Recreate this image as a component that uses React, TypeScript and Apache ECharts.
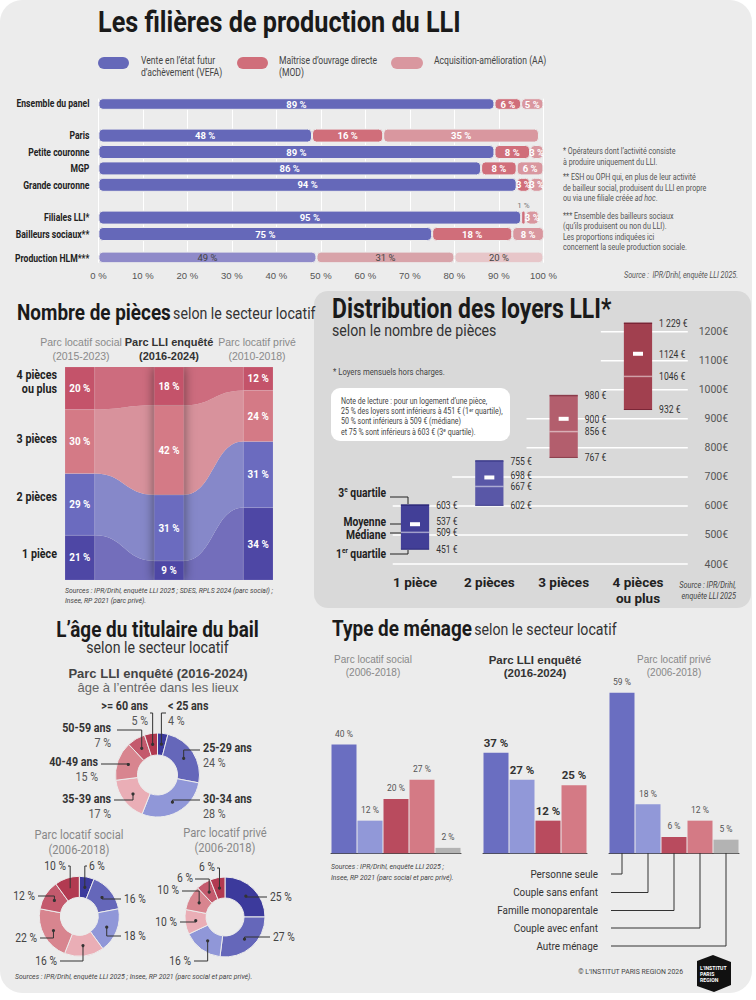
import React, { useEffect, useRef } from "react";
import * as echarts from "echarts";

const COND = "Roboto, 'Liberation Sans', sans-serif";
const SANS = "'Liberation Sans', Arial, Roboto, sans-serif";
const SX = 0.86;

// ---------- 1. Filières de production ----------
const filiereCats = ["Ensemble du panel", "Paris", "Petite couronne", "MGP", "Grande couronne", "Filiales LLI*", "Bailleurs sociaux**", "Production HLM***"];
const filiereVefa = [89, 48, 89, 86, 94, 95, 75, 49];
const filiereMod = [6, 16, 8, 8, 3, 1, 18, 31];
const filiereAa = [5, 35, 3, 6, 3, 3, 8, 20];
const filiereNames = ["Vente en l’état futur\nd’achèvement (VEFA)", "Maîtrise d’ouvrage directe\n(MOD)", "Acquisition-amélioration (AA)"];

// ---------- 2. Nombre de pièces ----------
const piecesCats = ["1 pièce", "2 pièces", "3 pièces", "4 pièces\nou plus"];
const piecesSocial = [21, 29, 30, 20];
const piecesLLI = [9, 31, 42, 18];
const piecesPrive = [34, 31, 24, 12];

// ---------- 3. Loyers ----------
const loyerCats = ["1 pièce", "2 pièces", "3 pièces", "4 pièces\nou plus"];
const loyerQ1 = [451, 602, 767, 932];
const loyerMedian = [509, 667, 856, 1046];
const loyerMean = [537, 698, 900, 1124];
const loyerQ3 = [603, 755, 980, 1229];
const loyerTicks = [400, 500, 600, 700, 800, 900, 1000, 1100, 1200];

// ---------- 4. Âge ----------
const ageCats = ["< 25 ans", "25-29 ans", "30-34 ans", "35-39 ans", "40-49 ans", "50-59 ans", ">= 60 ans"];
const ageLLI = [4, 24, 28, 17, 15, 7, 5];
const ageSocial = [6, 16, 18, 16, 22, 12, 10];
const agePrive = [25, 27, 16, 10, 10, 6, 6];

// ---------- 5. Ménage ----------
const menageCats = ["Personne seule", "Couple sans enfant", "Famille monoparentale", "Couple avec enfant", "Autre ménage"];
const menageSocial = [40, 12, 20, 27, 2];
const menageLLI = [37, 27, 12, 25];
const menagePrive = [59, 18, 6, 12, 5];

// ---------- styles / layout ----------
const FIL_SLOTS = [0, 4, 6, 8, 10, 14, 16, 19];
const FIL_N = 20;
const FIL_COLORS = ["#6568b9", "#d06e7a", "#d9979f"];
const FIL_LIGHT = ["#8f8ac9", "#d8a3a9", "#e7c6c9"];
const PIECE_COL = ["#4e47a5", "#6b6bbf", "#d47a86", "#c4536a"];
const PIECE_FLOW = ["#736ebb", "#8688c9", "#d8929c", "#cd6c7e"];
const PIECE_X = [[0, 1], [3, 4], [6, 7]];
const BOX = ["#423f97", "#5957a7", "#b35e6d", "#a1404f"];
const BOX_EDGE = ["#2c2978", "#3d3b8a", "#8a3b4a", "#7a2536"];
const AGE_COLORS = ["#3c3a9c", "#6567ba", "#9097d8", "#eaaeb6", "#d8858f", "#c45a6d", "#b23a51"];
const MEN_COLORS = ["#6a6ec1", "#9198d8", "#b94b5e", "#d47a85", "#b3b3b3"];

function T(text: string, x: number, y: number, o: any = {}) {
  const align = o.align || "left";
  const family = o.family || COND;
  const sx = o.sx ?? (family === COND ? SX : 1);
  return {
    type: "text", x, y, scaleX: sx, silent: true, z: o.z ?? 10,
    style: {
      text, x: 0, y: 0, fill: o.fill || "#333", fontSize: o.size || 10, fontFamily: family,
      fontWeight: o.weight || "normal", fontStyle: o.italic ? "italic" : "normal",
      align, textAlign: align, verticalAlign: "middle", textVerticalAlign: "middle",
      lineHeight: o.lh, rich: o.rich,
    },
  };
}
function PL(points: number[][], o: any = {}) {
  return { type: "polyline", silent: true, z: 10, shape: { points }, style: { stroke: o.stroke || "#333", lineWidth: o.lw || 1, fill: "none" } };
}

function donutLabels(values: number[], center: number[], radius: number[], layout: any[], withNames: boolean) {
  const total = values.reduce((a, b) => a + b, 0);
  const rMid = (radius[0] + radius[1]) / 2;
  let acc = 0;
  const els: any[] = [];
  values.forEach((v, i) => {
    const a = ((acc + v / 2) / total) * Math.PI * 2;
    acc += v;
    const dx = center[0] + rMid * Math.sin(a);
    const dy = center[1] - rMid * Math.cos(a);
    const L = layout[i];
    els.push(PL([[dx, dy], [dx, L.ly], [L.ex, L.ly]]));
    els.push({ type: "circle", silent: true, z: 11, shape: { cx: dx, cy: dy, r: 1.6 }, style: { fill: "#333" } });
    if (withNames) {
      els.push(T(ageCats[i], L.tx, L.ty, { align: L.al, size: 12.5, weight: "bold", fill: "#333" }));
      els.push(T(`${v} %`, L.tx, L.ty + 15, { align: L.al, size: 12.5, fill: "#555" }));
    } else {
      els.push(T(`${v} %`, L.tx, L.ty, { align: L.al, size: 12, fill: "#444" }));
    }
  });
  return els;
}

const AGE_LLI_LAYOUT = [
  { tx: 168, ty: 706, al: "left", ly: 713, ex: 166 },
  { tx: 203, ty: 748, al: "left", ly: 750, ex: 200 },
  { tx: 203, ty: 799, al: "left", ly: 800, ex: 200 },
  { tx: 111, ty: 799, al: "right", ly: 800, ex: 114 },
  { tx: 98, ty: 762, al: "right", ly: 764, ex: 101 },
  { tx: 111, ty: 728, al: "right", ly: 730, ex: 117 },
  { tx: 148, ty: 706, al: "right", ly: 713, ex: 150 },
];
const AGE_SOC_LAYOUT = [
  { tx: 89, ty: 866, al: "left", ly: 866, ex: 87 },
  { tx: 124, ty: 899, al: "left", ly: 899, ex: 121 },
  { tx: 124, ty: 936, al: "left", ly: 936, ex: 121 },
  { tx: 57, ty: 961, al: "right", ly: 961, ex: 60 },
  { tx: 37, ty: 938, al: "right", ly: 938, ex: 40 },
  { tx: 35, ty: 896, al: "right", ly: 896, ex: 38 },
  { tx: 66, ty: 866, al: "right", ly: 866, ex: 68 },
];
const AGE_PRIVE_LAYOUT = [
  { tx: 270, ty: 897, al: "left", ly: 897, ex: 267 },
  { tx: 273, ty: 937, al: "left", ly: 937, ex: 270 },
  { tx: 191, ty: 961, al: "right", ly: 961, ex: 194 },
  { tx: 177, ty: 922, al: "right", ly: 922, ex: 180 },
  { tx: 179, ty: 890, al: "right", ly: 891, ex: 182 },
  { tx: 193, ty: 878, al: "right", ly: 879, ex: 195 },
  { tx: 215, ty: 867, al: "right", ly: 868, ex: 217 },
];
const DONUTS = [
  { values: ageLLI, center: [157.5, 775], radius: [20, 42], layout: AGE_LLI_LAYOUT, names: true },
  { values: ageSocial, center: [79.3, 916.3], radius: [19, 40], layout: AGE_SOC_LAYOUT, names: false },
  { values: agePrive, center: [225, 917], radius: [19, 40], layout: AGE_PRIVE_LAYOUT, names: false },
];

function buildOption() {
  const FIL_GRID = { left: 98.4, top: 98.7, width: 445, height: 164 };
  const grids = [
    FIL_GRID,
    { left: 65, top: 367, width: 208, height: 213 },
    { left: 377.85, top: 331.7, width: 297.3, height: 232.3 },
    { left: 331, top: 690.1, width: 130, height: 163.2 },
    { left: 483, top: 690.1, width: 104, height: 163.2 },
    { left: 609, top: 690.1, width: 130, height: 163.2 },
  ].map((g) => ({ ...g, containLabel: false, outerBoundsMode: "none", show: false }));

  const yCats = new Array(FIL_N).fill("");
  filiereCats.forEach((c, i) => (yCats[FIL_SLOTS[i]] = c));

  const menGroups = [
    { data: menageSocial, bold: false },
    { data: menageLLI, bold: true },
    { data: menagePrive, bold: false },
  ];

  const xAxis: any[] = [
    {
      gridIndex: 0, type: "value", min: 0, max: 100, interval: 10,
      splitLine: { show: true, lineStyle: { color: "#ffffff", width: 1 } },
      axisLine: { show: false }, axisTick: { show: false },
      axisLabel: { formatter: (v: number) => `${v} %`, color: "#555", fontSize: 9.5, fontFamily: SANS, margin: 8 },
    },
    { gridIndex: 1, type: "value", min: 0, max: 7, show: false },
    {
      gridIndex: 2, type: "category", data: loyerCats,
      axisLine: { show: false }, axisTick: { show: false },
      axisLabel: { interval: 0, color: "#222", fontWeight: "bold", fontSize: 13.5, fontFamily: COND, margin: 10, lineHeight: 16 },
    },
    ...menGroups.map((g, k) => ({
      gridIndex: 3 + k, type: "category", data: menageCats.slice(0, g.data.length),
      axisLine: { show: true, lineStyle: { color: "#444", width: 1 } }, axisTick: { show: false }, axisLabel: { show: false },
    })),
  ];
  const yAxis: any[] = [
    {
      gridIndex: 0, type: "category", data: yCats, inverse: true,
      axisLine: { show: false }, axisTick: { show: false }, axisLabel: { show: false },
    },
    { gridIndex: 1, type: "value", min: 0, max: 100, show: false },
    {
      gridIndex: 2, type: "value", min: 400, max: 1200, interval: 100, position: "right",
      splitLine: { show: false }, axisLine: { show: false }, axisTick: { show: false },
      axisLabel: { formatter: (v: number) => `${v}€`, align: "right", margin: 53, color: "#555", fontSize: 10.5, fontFamily: COND },
    },
    ...menGroups.map((g, k) => ({ gridIndex: 3 + k, type: "value", min: 0, max: 60, show: false })),
  ];

  const series: any[] = [];

  [filiereVefa, filiereMod, filiereAa].forEach((arr, s) => {
    const data: any[] = new Array(FIL_N).fill("-");
    arr.forEach((v, i) => {
      const item: any = { value: v };
      if (i === arr.length - 1) {
        item.itemStyle = { color: FIL_LIGHT[s] };
        item.label = { color: "#444", fontWeight: "normal" };
      }
      if (v <= 1) item.label = { position: "top", distance: 1, color: "#777", fontWeight: "normal", fontSize: 8 };
      data[FIL_SLOTS[i]] = item;
    });
    series.push({
      type: "bar", name: filiereNames[s], xAxisIndex: 0, yAxisIndex: 0, stack: "fil", barWidth: 14, data, silent: true,
      itemStyle: { color: FIL_COLORS[s], borderRadius: 4, borderColor: "#ececec", borderWidth: 1 },
      label: { show: true, position: "inside", formatter: "{c} %", color: "#fff", fontWeight: "bold", fontSize: 9.5, fontFamily: COND },
    });
  });

  // pieces: flows + columns
  const pieceCols = [piecesSocial, piecesLLI, piecesPrive];
  const cum = (arr: number[]) => {
    let s = 0;
    return arr.map((v) => { const r = [s, s + v]; s += v; return r; });
  };
  const pc = pieceCols.map(cum);
  const pieceItems: number[][] = [];
  for (let c = 0; c < 2; c++)
    for (let k = 0; k < 4; k++)
      pieceItems.push([PIECE_X[c][1], PIECE_X[c + 1][0], pc[c][k][0], pc[c][k][1], pc[c + 1][k][0], pc[c + 1][k][1], 0, k, 0]);
  pieceItems.push([PIECE_X[1][0], PIECE_X[1][1], 0, 100, 0, 100, 1, 0, 0]);
  for (let c = 0; c < 3; c++)
    for (let k = 0; k < 4; k++)
      pieceItems.push([PIECE_X[c][0], PIECE_X[c][1], pc[c][k][0], pc[c][k][1], pc[c][k][0], pc[c][k][1], 2, k, pieceCols[c][k]]);

  series.push({
    type: "custom", xAxisIndex: 1, yAxisIndex: 1, silent: true, clip: true,
    encode: { x: [0, 1], y: [2, 3, 4, 5] },
    data: pieceItems,
    renderItem: (params: any, api: any) => {
      const xL = api.value(0), xR = api.value(1);
      const loL = api.value(2), hiL = Math.min(api.value(3), 100);
      const loR = api.value(4), hiR = Math.min(api.value(5), 100);
      const kind = api.value(6), k = api.value(7), val = api.value(8);
      const tl = api.coord([xL, hiL]), bl = api.coord([xL, loL]);
      const tr = api.coord([xR, hiR]), br = api.coord([xR, loR]);
      if (kind === 1) {
        return { type: "rect", shape: { x: tl[0], y: tl[1], width: tr[0] - tl[0], height: bl[1] - tl[1] }, style: { fill: "#777", shadowBlur: 12, shadowColor: "rgba(0,0,0,0.5)" } };
      }
      if (kind === 0) {
        const xm = (tl[0] + tr[0]) / 2;
        const d = `M${tl[0]} ${tl[1]} C${xm} ${tl[1]} ${xm} ${tr[1]} ${tr[0]} ${tr[1]} L${br[0]} ${br[1]} C${xm} ${br[1]} ${xm} ${bl[1]} ${bl[0]} ${bl[1]} Z`;
        return { type: "path", shape: { pathData: d }, style: { fill: PIECE_FLOW[k] } };
      }
      return {
        type: "group",
        children: [
          { type: "rect", shape: { x: tl[0], y: tl[1], width: tr[0] - tl[0], height: bl[1] - tl[1] }, style: { fill: PIECE_COL[k], stroke: "rgba(255,255,255,0.2)", lineWidth: 0.6 } },
          {
            type: "text", x: (tl[0] + tr[0]) / 2, y: (tl[1] + bl[1]) / 2, scaleX: SX,
            style: {
              text: `${val} %`, x: 0, y: 0, fill: "#fff", fontSize: 11.5, fontWeight: "bold", fontFamily: COND,
              align: "center", verticalAlign: "middle", textAlign: "center", textVerticalAlign: "middle",
            },
          },
        ],
      };
    },
  });

  // loyers gridlines
  series.push({
    type: "custom", xAxisIndex: 2, yAxisIndex: 2, silent: true, clip: false,
    encode: { x: 0, y: 1 },
    data: loyerTicks.map((v) => [loyerQ3.findIndex((q) => q >= v), v]),
    renderItem: (params: any, api: any) => {
      const i = api.value(0), v = api.value(1);
      const band = api.size([1, 0])[0];
      const [xi, y] = api.coord([i, v]);
      const x0 = i === 0 ? xi - band * 0.3 : xi - band / 2;
      const x1 = api.coord([loyerCats.length - 1, v])[0] + band * 0.67;
      return { type: "line", shape: { x1: x0, y1: y, x2: x1, y2: y }, style: { stroke: "#ffffff", lineWidth: 1.5 } };
    },
  });
  // loyers boxes
  const fmtThousands = (v: number) => `${String(v).replace(/\B(?=(\d{3})+(?!\d))/g, " ")} €`;
  series.push({
    type: "custom", xAxisIndex: 2, yAxisIndex: 2, silent: true, clip: false,
    encode: { x: 0, y: [1, 2, 3, 4] },
    data: loyerCats.map((c, i) => [i, loyerQ1[i], loyerMedian[i], loyerMean[i], loyerQ3[i]]),
    renderItem: (params: any, api: any) => {
      const i = api.value(0);
      const q1 = api.value(1), med = api.value(2), mean = api.value(3), q3 = api.value(4);
      const [cx, yq3] = api.coord([i, q3]);
      const yq1 = api.coord([i, q1])[1], ymed = api.coord([i, med])[1], ymean = api.coord([i, mean])[1];
      const w = api.size([1, 0])[0] * 0.38;
      const x0 = cx - w / 2, x1 = cx + w / 2, lx = x1 + 7;
      const yMeanLbl = ymed - ymean < 11 ? ymed - 11 : ymean;
      const lbl = (t: string, y: number) => ({
        type: "text", x: lx, y, scaleX: SX,
        style: { text: t, x: 0, y: 0, fill: "#333", fontSize: 10, fontFamily: COND, align: "left", verticalAlign: "middle", textAlign: "left", textVerticalAlign: "middle" },
      });
      return {
        type: "group",
        children: [
          { type: "rect", shape: { x: x0, y: yq3, width: w, height: yq1 - yq3 }, style: { fill: BOX[i] } },
          { type: "line", shape: { x1: x0, y1: yq3, x2: x1, y2: yq3 }, style: { stroke: BOX_EDGE[i], lineWidth: 1.5 } },
          { type: "line", shape: { x1: x0, y1: yq1, x2: x1, y2: yq1 }, style: { stroke: BOX_EDGE[i], lineWidth: 1 } },
          { type: "line", shape: { x1: x0, y1: ymed, x2: x1, y2: ymed }, style: { stroke: "rgba(255,255,255,0.5)", lineWidth: 1.5 } },
          { type: "rect", shape: { x: cx - 5, y: ymean - 2, width: 10, height: 4 }, style: { fill: "#ffffff" } },
          lbl(fmtThousands(q3), yq3),
          lbl(`${mean} €`, yMeanLbl),
          lbl(`${med} €`, ymed),
          lbl(`${q1} €`, yq1),
        ],
      };
    },
  });

  // donuts
  DONUTS.forEach((d) => {
    series.push({
      type: "pie", center: d.center, radius: d.radius, startAngle: 90, clockwise: true, silent: true,
      label: { show: false }, labelLine: { show: false },
      itemStyle: { borderColor: "#ececec", borderWidth: 1 },
      data: ageCats.map((n, i) => ({ name: n, value: d.values[i], itemStyle: { color: AGE_COLORS[i] } })),
    });
  });

  // ménage bars
  menGroups.forEach((g, k) => {
    series.push({
      type: "bar", xAxisIndex: 3 + k, yAxisIndex: 3 + k, barWidth: 25, silent: true,
      data: g.data.map((v, i) => ({ value: v, itemStyle: { color: MEN_COLORS[i] } })),
      label: g.bold
        ? { show: true, position: "top", distance: 4, formatter: "{c} %", color: "#333", fontWeight: "bold", fontSize: 11.5, fontFamily: COND }
        : { show: true, position: "top", distance: 6, formatter: "{c} %", color: "#555", fontSize: 8.5, fontFamily: COND },
    });
  });

  // ---- graphic
  const sup = { fontSize: 7.5, fontWeight: "bold", fontFamily: COND, fill: "#222", padding: [0, 0, 6, 0] };
  const supN = { fontSize: 5.5, fontFamily: COND, fill: "#444", padding: [0, 0, 4, 0] };
  const titleRich = (size: number) => ({
    a: { fontSize: size, fontWeight: "bold", fontFamily: COND, fill: "#1a1a1a" },
    b: { fontSize: 16.5, fontFamily: COND, fill: "#333", padding: [4, 0, 0, 0] },
  });

  const g: any[] = [
    { type: "rect", silent: true, z: -10, shape: { x: 0, y: 0, width: 752, height: 993, r: 22 }, style: { fill: "#ececec" } },
    { type: "rect", silent: true, z: -9, shape: { x: 314, y: 291, width: 437, height: 317, r: 14 }, style: { fill: "#d9d9d9" } },

    // section 1
    T("Les filières de production du LLI", 98, 22, { size: 29, weight: "bold", fill: "#1a1a1a", sx: 0.87 }),
    { type: "rect", silent: true, z: 5, shape: { x: 98, y: 57, width: 31, height: 12, r: 6 }, style: { fill: FIL_COLORS[0] } },
    { type: "rect", silent: true, z: 5, shape: { x: 237, y: 57, width: 31, height: 12, r: 6 }, style: { fill: FIL_COLORS[1] } },
    { type: "rect", silent: true, z: 5, shape: { x: 391, y: 57, width: 32, height: 12, r: 6 }, style: { fill: FIL_COLORS[2] } },
    T(filiereNames[0], 141, 66, { size: 10, fill: "#444", lh: 12 }),
    T(filiereNames[1], 279, 66, { size: 10, fill: "#444", lh: 12 }),
    T(filiereNames[2], 434, 60, { size: 10, fill: "#444" }),
    T("* Opérateurs dont l’activité consiste\nà produire uniquement du LLI.", 563, 157, { size: 8.3, fill: "#555", lh: 10.5 }),
    T("** ESH ou OPH qui, en plus de leur activité\nde bailleur social, produisent du LLI en propre\nou via une filiale créée {i|ad hoc}.", 563, 188, {
      size: 8.3, fill: "#555", lh: 10.5, rich: { i: { fontSize: 8.3, fontStyle: "italic", fontFamily: COND, fill: "#555" } },
    }),
    T("*** Ensemble des bailleurs sociaux\n(qu’ils produisent ou non du LLI).\nLes proportions indiquées ici\nconcernent la seule production sociale.", 563, 232, { size: 8.3, fill: "#555", lh: 10.5 }),
    T("Source :  IPR/Drihl, enquête LLI 2025.", 738, 275, { size: 8.3, fill: "#555", italic: true, align: "right" }),

    // section 2 left
    T("{a|Nombre de pièces} {b|selon le secteur locatif}", 17, 312, { rich: titleRich(22) }),
    T("Parc locatif social\n(2015-2023)", 81, 348.5, { align: "center", size: 10.5, family: SANS, fill: "#8a8a8a", lh: 14 }),
    T("Parc LLI enquêté\n(2016-2024)", 169, 348.5, { align: "center", size: 11, weight: "bold", family: SANS, fill: "#333", lh: 14 }),
    T("Parc locatif privé\n(2010-2018)", 257, 348.5, { align: "center", size: 10.5, family: SANS, fill: "#8a8a8a", lh: 14 }),
    T("4 pièces\nou plus", 57, 381.5, { align: "right", size: 12.5, weight: "bold", fill: "#222", lh: 13.5 }),
    T("3 pièces", 57, 439, { align: "right", size: 12.5, weight: "bold", fill: "#222" }),
    T("2 pièces", 57, 497, { align: "right", size: 12.5, weight: "bold", fill: "#222" }),
    T("1 pièce", 57, 554, { align: "right", size: 12.5, weight: "bold", fill: "#222" }),
    T("Sources : IPR/Drihl, enquête LLI 2025 ; SDES, RPLS 2024 (parc social) ;\nInsee, RP 2021 (parc privé).", 65, 595.5, { size: 8, italic: true, fill: "#444", lh: 10 }),

    // section 2 right
    T("Distribution des loyers LLI*", 332, 309, { size: 27, weight: "bold", fill: "#1a1a1a", sx: 0.85 }),
    T("selon le nombre de pièces", 332, 331, { size: 16.5, fill: "#333" }),
    T("* Loyers mensuels hors charges.", 333, 372, { size: 9, fill: "#444" }),
    { type: "rect", silent: true, z: 1, shape: { x: 331, y: 388, width: 179, height: 53, r: 9 }, style: { fill: "#ffffff" } },
    T("Note de lecture : pour un logement d’une pièce,\n25 % des loyers sont inférieurs à 451 € (1{s|er} quartile),\n50 % sont inférieurs à 509 € (médiane)\net 75 % sont inférieurs à 603 € (3{s|e} quartile).", 341, 416.5, {
      size: 8.2, fill: "#444", lh: 10.3, rich: { s: supN },
    }),
    T("3{s|e} quartile", 386, 493, { align: "right", size: 12, weight: "bold", fill: "#222", rich: { s: sup } }),
    T("Moyenne", 386, 522, { align: "right", size: 12, weight: "bold", fill: "#222" }),
    T("Médiane", 386, 535, { align: "right", size: 12, weight: "bold", fill: "#222" }),
    T("1{s|er} quartile", 386, 554, { align: "right", size: 12, weight: "bold", fill: "#222", rich: { s: sup } }),
    PL([[390, 497], [408, 497], [408, 504]], { stroke: "#222" }),
    PL([[390, 524], [401, 524]], { stroke: "#222" }),
    PL([[390, 533], [401, 533]], { stroke: "#222" }),
    PL([[390, 554], [408, 554], [408, 550]], { stroke: "#222" }),
    T("Source : IPR/Drihl,\nenquête LLI 2025", 736, 591, { align: "right", size: 8.5, italic: true, fill: "#444", lh: 11 }),

    // section 3 left
    T("L’âge du titulaire du bail", 157.5, 629, { align: "center", size: 22, weight: "bold", fill: "#1a1a1a" }),
    T("selon le secteur locatif", 157.5, 648, { align: "center", size: 16.5, fill: "#333" }),
    T("Parc LLI enquêté (2016-2024)", 158, 673, { align: "center", size: 13, weight: "bold", family: SANS, fill: "#444" }),
    T("âge à l’entrée dans les lieux", 158, 687, { align: "center", size: 13, family: SANS, fill: "#666" }),
    T("Parc locatif social\n(2006-2018)", 79, 842, { align: "center", size: 13, fill: "#888", lh: 14.5 }),
    T("Parc locatif privé\n(2006-2018)", 225, 840, { align: "center", size: 13, fill: "#888", lh: 14.5 }),
    T("Sources : IPR/Drihl, enquête LLI 2025 ; Insee, RP 2021 (parc social et parc privé).", 15, 976, { size: 8, italic: true, fill: "#444" }),

    // section 3 right
    T("{a|Type de ménage} {b|selon le secteur locatif}", 332, 628, { rich: titleRich(22) }),
    T("Parc locatif social\n(2006-2018)", 373, 666, { align: "center", size: 10, family: SANS, fill: "#888", lh: 13 }),
    T("Parc LLI enquêté\n(2016-2024)", 535, 666, { align: "center", size: 11.5, weight: "bold", family: SANS, fill: "#333", lh: 13 }),
    T("Parc locatif privé\n(2006-2018)", 674, 666, { align: "center", size: 10, family: SANS, fill: "#888", lh: 13 }),
    T("Sources : IPR/Drihl, enquête LLI 2025 ;\nInsee, RP 2021 (parc social et parc privé).", 331, 871.5, { size: 8, italic: true, fill: "#444", lh: 11 }),
    T("© L’INSTITUT PARIS REGION 2026", 683, 971, { align: "right", size: 8, fill: "#444" }),
    { type: "polygon", silent: true, z: 10, shape: { points: [[697, 961], [713, 955], [731, 962], [731, 985], [714, 992], [697, 986]] }, style: { fill: "#111" } },
    T("L’INSTITUT\nPARIS\nREGION", 700, 974, { size: 6, weight: "bold", fill: "#fff", lh: 6, z: 12 }),
  ];

  // filière row labels (positioned from the category slots of the grid)
  const slotH = FIL_GRID.height / FIL_N;
  filiereCats.forEach((c, i) => {
    g.push(T(c, FIL_GRID.left - 9, FIL_GRID.top + (FIL_SLOTS[i] + 0.5) * slotH, { align: "right", size: 10, weight: "bold", fill: "#222" }));
  });

  // ménage legend with connectors to the privé bars
  const legY = [874, 892.5, 910.5, 928, 946];
  menageCats.forEach((c, i) => {
    const cx = 609 + 13 + 26 * i;
    g.push(T(c, 598, legY[i], { align: "right", size: 11.5, fill: "#333" }));
    g.push(PL([[611, legY[i]], [cx, legY[i]], [cx, 853]]));
  });

  DONUTS.forEach((d) => g.push(...donutLabels(d.values, d.center, d.radius, d.layout, d.names)));

  return {
    animation: false,
    backgroundColor: "#ffffff",
    grid: grids,
    xAxis,
    yAxis,
    series,
    graphic: { elements: g },
  };
}

export default function App() {
  const ref = useRef<HTMLDivElement>(null);
  useEffect(() => {
    document.body.style.margin = "0";
    const chart = echarts.init(ref.current!, null, { renderer: "svg", width: 756, height: 1000 });
    chart.setOption(buildOption() as any);
    return () => chart.dispose();
  }, []);
  return <div ref={ref} style={{ width: 756, height: 1000 }} />;
}
